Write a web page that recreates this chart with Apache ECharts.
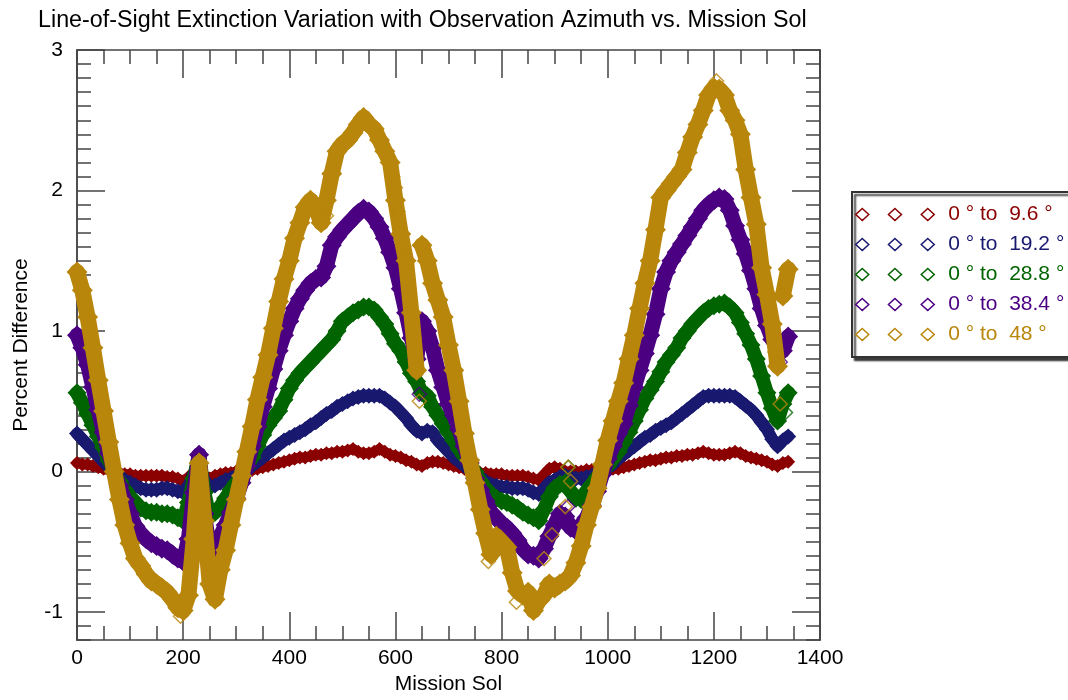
<!DOCTYPE html>
<html><head><meta charset="utf-8">
<script src="https://cdn.jsdelivr.net/npm/echarts@6/dist/echarts.min.js"></script>
<style>html,body{margin:0;padding:0;background:#fff}#c{width:1068px;height:700px}</style>
</head><body><div id="c"></div>
<script>
const sols = [0,10,20,30,40,50,60,70,80,90,100,110,120,130,140,150,160,170,180,190,
200,210,220,230,240,250,260,270,280,290,300,310,320,330,340,350,360,370,380,390,
400,410,420,430,440,450,460,470,480,490,500,510,520,530,540,550,560,570,580,590,
600,610,620,630,640,650,660,670,680,690,700,710,720,730,740,750,760,770,780,790,
800,810,820,830,840,850,860,870,880,890,900,910,920,930,940,950,960,970,980,990,
1000,1010,1020,1030,1040,1050,1060,1070,1080,1090,1100,1110,1120,1130,1140,1150,1160,1170,1180,1190,
1200,1210,1220,1230,1240,1250,1260,1270,1280,1290,1300,1310,1320,1330,1340];

const red = [0.06,0.05,0.05,0.04,0.03,0.02,0.01,0.00,-0.01,-0.02,
-0.02,-0.03,-0.03,-0.03,-0.03,-0.03,-0.03,-0.04,-0.04,-0.05,
-0.07,-0.04,-0.01,0.01,-0.03,-0.05,-0.03,-0.02,-0.01,-0.01,
0.00,0.00,0.00,0.01,0.02,0.03,0.04,0.05,0.06,0.07,
0.08,0.09,0.10,0.10,0.11,0.12,0.12,0.13,0.13,0.14,
0.14,0.15,0.16,0.14,0.13,0.13,0.14,0.16,0.14,0.12,
0.11,0.10,0.08,0.07,0.05,0.04,0.06,0.07,0.07,0.06,
0.05,0.04,0.03,0.02,0.01,0.00,-0.01,-0.01,-0.02,-0.02,
-0.02,-0.03,-0.03,-0.03,-0.03,-0.04,-0.05,-0.06,-0.02,0.02,
0.03,0.02,0.00,0.00,0.00,0.00,0.01,0.01,0.01,0.01,
0.01,0.02,0.02,0.03,0.04,0.05,0.06,0.07,0.08,0.08,
0.09,0.10,0.10,0.11,0.11,0.12,0.12,0.13,0.14,0.13,
0.12,0.12,0.12,0.13,0.14,0.13,0.11,0.10,0.09,0.08,
0.07,0.05,0.04,0.06,0.07];

const blue = [0.27,0.23,0.19,0.15,0.11,0.07,0.03,-0.01,-0.04,-0.06,
-0.08,-0.10,-0.12,-0.13,-0.13,-0.13,-0.12,-0.12,-0.13,-0.14,
-0.15,-0.10,-0.02,0.05,-0.06,-0.11,-0.10,-0.08,-0.06,-0.05,
-0.03,-0.01,0.01,0.04,0.07,0.10,0.13,0.16,0.19,0.22,
0.24,0.26,0.28,0.30,0.33,0.35,0.38,0.41,0.43,0.46,
0.48,0.50,0.52,0.53,0.54,0.54,0.54,0.54,0.52,0.49,
0.46,0.42,0.38,0.33,0.29,0.27,0.29,0.28,0.22,0.18,
0.14,0.10,0.07,0.04,0.01,-0.02,-0.04,-0.07,-0.09,-0.10,
-0.11,-0.11,-0.12,-0.12,-0.12,-0.13,-0.15,-0.16,-0.12,-0.08,
-0.06,-0.04,-0.03,-0.04,-0.05,-0.05,-0.04,-0.03,-0.01,0.01,
0.03,0.05,0.09,0.12,0.15,0.18,0.21,0.24,0.26,0.29,
0.31,0.33,0.35,0.38,0.41,0.44,0.47,0.50,0.53,0.54,
0.54,0.54,0.54,0.54,0.53,0.50,0.47,0.44,0.40,0.35,
0.30,0.23,0.18,0.22,0.25];

const green = [0.56,0.49,0.41,0.33,0.25,0.17,0.08,0.00,-0.07,-0.13,
-0.18,-0.22,-0.26,-0.28,-0.29,-0.29,-0.30,-0.30,-0.31,-0.33,
-0.35,-0.22,-0.05,0.12,-0.15,-0.32,-0.29,-0.25,-0.19,-0.13,
-0.08,-0.03,0.03,0.10,0.18,0.26,0.33,0.38,0.43,0.51,
0.59,0.65,0.70,0.74,0.78,0.82,0.86,0.90,0.94,1.00,
1.07,1.10,1.13,1.15,1.17,1.17,1.15,1.10,1.05,0.98,
0.91,0.86,0.78,0.70,0.64,0.56,0.54,0.46,0.40,0.34,
0.28,0.22,0.16,0.11,0.06,0.00,-0.07,-0.12,-0.16,-0.19,
-0.21,-0.22,-0.24,-0.26,-0.29,-0.31,-0.33,-0.35,-0.27,-0.18,
-0.12,-0.09,-0.08,-0.14,-0.19,-0.20,-0.14,-0.09,-0.04,0.00,
0.04,0.09,0.14,0.21,0.28,0.36,0.44,0.52,0.58,0.64,
0.71,0.78,0.83,0.88,0.95,1.00,1.05,1.09,1.13,1.16,
1.18,1.19,1.20,1.17,1.13,1.06,0.98,0.90,0.80,0.68,
0.56,0.45,0.36,0.48,0.56];

const purple = [0.97,0.88,0.76,0.60,0.44,0.28,0.13,0.00,-0.10,-0.20,
-0.30,-0.39,-0.44,-0.48,-0.51,-0.53,-0.55,-0.56,-0.59,-0.62,
-0.64,-0.48,-0.15,0.12,-0.30,-0.56,-0.54,-0.46,-0.38,-0.29,
-0.19,-0.08,0.04,0.18,0.32,0.46,0.59,0.73,0.86,0.97,
1.07,1.16,1.23,1.29,1.34,1.37,1.38,1.46,1.61,1.67,
1.72,1.76,1.80,1.84,1.87,1.85,1.80,1.74,1.66,1.56,
1.45,1.30,1.13,0.95,0.80,1.07,1.00,0.88,0.72,0.60,
0.48,0.40,0.30,0.18,0.06,-0.05,-0.13,-0.21,-0.29,-0.33,
-0.37,-0.40,-0.44,-0.49,-0.55,-0.59,-0.60,-0.62,-0.55,-0.46,
-0.38,-0.30,-0.32,-0.40,-0.42,-0.38,-0.33,-0.24,-0.14,-0.02,
0.09,0.18,0.27,0.34,0.47,0.60,0.72,0.84,0.97,1.12,
1.30,1.42,1.50,1.56,1.62,1.68,1.74,1.80,1.86,1.90,
1.93,1.95,1.94,1.86,1.75,1.65,1.55,1.43,1.30,1.16,
1.04,0.94,0.88,0.86,0.96];

const gold = [1.42,1.29,1.10,0.88,0.65,0.43,0.21,0.00,-0.20,-0.38,
-0.51,-0.62,-0.67,-0.73,-0.78,-0.80,-0.83,-0.86,-0.91,-0.97,
-0.99,-0.88,-0.48,0.06,-0.35,-0.80,-0.91,-0.70,-0.56,-0.38,
-0.20,-0.03,0.14,0.32,0.51,0.67,0.83,1.02,1.21,1.37,
1.50,1.66,1.77,1.88,1.93,1.88,1.77,1.93,2.12,2.28,
2.33,2.36,2.41,2.47,2.52,2.47,2.44,2.36,2.28,2.20,
1.93,1.69,1.50,1.13,0.72,1.61,1.50,1.34,1.22,1.10,
0.90,0.72,0.50,0.27,0.08,-0.08,-0.27,-0.44,-0.59,-0.46,
-0.50,-0.54,-0.72,-0.85,-0.88,-0.86,-0.99,-0.92,-0.88,-0.80,
-0.83,-0.80,-0.78,-0.74,-0.65,-0.53,-0.38,-0.25,-0.12,0.05,
0.22,0.36,0.50,0.63,0.80,0.97,1.16,1.34,1.50,1.72,
1.95,2.00,2.05,2.10,2.15,2.27,2.38,2.47,2.57,2.68,
2.73,2.72,2.68,2.57,2.50,2.40,2.15,1.95,1.76,1.45,
1.26,1.05,0.75,1.25,1.44];

// sols where a series' track restarts (a gap in the picture before that sol)
const redBreaks = [], blueBreaks = [], greenBreaks = [], purpleBreaks = [];
const goldBreaks = [650, 1330];

// extra scattered points [sol, value] (drawn as open diamonds)
const goldExtra = [[595,2.10],[605,1.85],[615,1.60],[635,0.95],[645,0.50],[655,1.56],[195,-1.03],[235,-0.12],[245,-0.58],[880,-0.62],[895,-0.45],[920,-0.25],[925,0.03],[930,-0.07],[1205,2.78],[1315,0.85],[1325,0.48],[1335,1.33],[775,-0.64],[828,-0.93],[470,1.82],[600,2.02]];
const purpleExtra = [[645,0.55],[925,-0.25],[1325,0.78],[660,0.92]];
const greenExtra = [[926,0.03],[1335,0.42]];
const blueExtra = [];
const redExtra = [];

const seriesNames = ['0 \u00b0 to  9.6 \u00b0','0 \u00b0 to  19.2 \u00b0','0 \u00b0 to  28.8 \u00b0','0 \u00b0 to  38.4 \u00b0','0 \u00b0 to  48 \u00b0'];
const colors = ['#8B0000','#191970','#006400','#4B0082','#B8860B'];
const yMajor = [-1,0,1,2,3];

const values = [red, blue, green, purple, gold];
const extras = [redExtra, blueExtra, greenExtra, purpleExtra, goldExtra];
const breaks = [redBreaks, blueBreaks, greenBreaks, purpleBreaks, goldBreaks];
const markSize = [14, 16, 19, 20, 21];
const trackWidth = [10, 12, 14, 15, 16];

const F = "'Liberation Sans', Arial, Helvetica, sans-serif";
const axisLineStyle = {color:'#444', width:1.5};

function xAx(pos, showLabel){
  return {type:'value', position:pos, min:0, max:1400, interval:200,
    axisLine:{show:true,onZero:false,lineStyle:axisLineStyle},
    axisTick:{show:true,inside:true,length:28,lineStyle:axisLineStyle},
    minorTick:{show:true,splitNumber:4,length:14,lineStyle:axisLineStyle},
    axisLabel:{show:showLabel,fontSize:21,color:'#000',margin:8,fontFamily:F,formatter:v=>String(v)},
    splitLine:{show:false}, minorSplitLine:{show:false},
    name: showLabel ? 'Mission Sol' : '', nameLocation:'middle', nameGap:27,
    nameTextStyle:{fontSize:21,color:'#000',fontFamily:F}};
}
function yMajorAx(pos, showLabel){
  return {type:'value', position:pos, min:-1.2, max:3,
    axisLine:{show:true,onZero:false,lineStyle:axisLineStyle},
    axisTick:{show:true,inside:true,length:28,lineStyle:axisLineStyle,customValues:yMajor},
    axisLabel:{show:showLabel,customValues:yMajor,fontSize:21,color:'#000',margin:14,fontFamily:F,formatter:v=>String(v)},
    splitLine:{show:false},
    name: showLabel ? 'Percent Difference' : '', nameLocation:'middle', nameGap:45, nameRotate:90,
    nameTextStyle:{fontSize:21,color:'#000',fontFamily:F}};
}
function yMinorAx(pos){
  return {type:'value', position:pos, min:-1.2, max:3, interval:0.1,
    axisLine:{show:true,onZero:false,lineStyle:axisLineStyle},
    axisTick:{show:true,inside:true,length:14,lineStyle:axisLineStyle},
    axisLabel:{show:false}, splitLine:{show:false}};
}

function trackData(i){
  const out = [];
  sols.forEach((s,k)=>{
    if (breaks[i].indexOf(s) >= 0) out.push([s, null]);
    out.push([s, values[i][k]]);
  });
  return out;
}

const series = [];
seriesNames.forEach((n,i)=>{
  series.push({
    name:n, type:'line', symbol:'diamond', symbolSize:markSize[i], showSymbol:true,
    showAllSymbol:true, connectNulls:false,
    xAxisIndex:0, yAxisIndex:0, z:2+i*2,
    data: trackData(i),
    lineStyle:{color:colors[i], width:trackWidth[i], join:'round', cap:'round'},
    itemStyle:{color:colors[i], borderWidth:0},
    emphasis:{disabled:true}, silent:true, animation:false
  });
  series.push({
    name:n, type:'scatter', symbol:'diamond', symbolSize:14,
    xAxisIndex:0, yAxisIndex:0, z:3+i*2,
    data: extras[i],
    itemStyle:{color:'rgba(255,255,255,0)', borderColor:colors[i], borderWidth:1.5},
    emphasis:{disabled:true}, silent:true, animation:false
  });
});

const legendIcon = 'path://M6.5 0 L13 6 L6.5 12 L0 6 Z M39.2 0 L45.7 6 L39.2 12 L32.7 6 Z M72 0 L78.5 6 L72 12 L65.5 6 Z';

const chart = echarts.init(document.getElementById('c'), null, {renderer:'canvas'});
chart.setOption({
  animation:false,
  backgroundColor:'#fff',
  title:{text:'Line-of-Sight Extinction Variation with Observation Azimuth vs. Mission Sol', left:33, top:4,
    textStyle:{fontSize:23.3,fontWeight:'normal',color:'#000',fontFamily:F}},
  grid:{left:77,right:248,top:50,bottom:50,containLabel:false},
  xAxis:[xAx('bottom',true), xAx('top',false)],
  yAxis:[yMajorAx('left',true), yMinorAx('left'), yMajorAx('right',false), yMinorAx('right')],
  legend:{orient:'vertical', left:852, top:192, padding:[12,70,12,3], itemGap:9,
    itemWidth:78.5, itemHeight:12, icon:legendIcon, selectedMode:false,
    backgroundColor:'#fff', borderColor:'#333', borderWidth:2,
    shadowColor:'rgba(0,0,0,0.75)', shadowBlur:2, shadowOffsetX:3, shadowOffsetY:3,
    textStyle:{fontSize:21,fontFamily:F,lineHeight:20,padding:[0,0,0,9]},
    data: seriesNames.map((n,i)=>({name:n, icon:legendIcon, textStyle:{color:colors[i]},
      itemStyle:{color:'rgba(255,255,255,0)', borderColor:colors[i], borderWidth:1.5}}))},
  series: series
});
</script></body></html>
